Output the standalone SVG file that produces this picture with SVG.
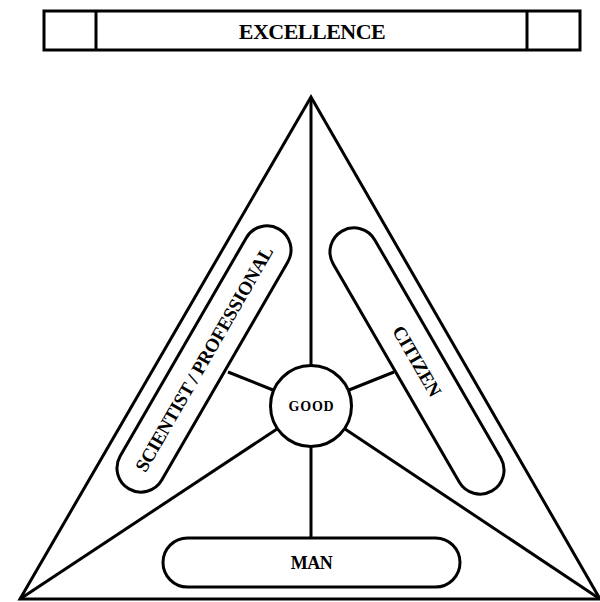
<svg xmlns="http://www.w3.org/2000/svg" width="600" height="602" viewBox="0 0 600 602">
<style>
.s{fill:none;stroke:#000;stroke-width:3}
.f{fill:#fff;stroke:#000;stroke-width:3}
.t{font-family:"Liberation Serif","Times New Roman",serif;font-weight:bold;fill:#000;text-anchor:middle}
</style>
<rect width="600" height="602" fill="#fff"/>
<g id="banner">
<rect class="s" x="44" y="11" width="536" height="39"/>
<line class="s" x1="96" y1="11" x2="96" y2="50"/>
<line class="s" x1="527" y1="11" x2="527" y2="50"/>
<text class="t" x="312" y="38.5" font-size="22" letter-spacing="-0.5">EXCELLENCE</text>
</g>
<g id="triangle">
<polygon class="s" points="311,97 20,599 600,599" stroke-linejoin="miter"/>
</g>
<g id="connectors">
<line class="s" x1="311" y1="97" x2="311" y2="366"/>
<line class="s" x1="311" y1="447" x2="311" y2="538"/>
<line class="s" x1="277" y1="429" x2="20" y2="599"/>
<line class="s" x1="345" y1="429" x2="600" y2="599"/>
<line class="s" x1="228" y1="372" x2="273" y2="390"/>
<line class="s" x1="394" y1="372" x2="349" y2="390"/>
</g>
<g id="good">
<circle class="f" cx="311" cy="406" r="40.5"/>
<text class="t" x="311.5" y="411" font-size="14" letter-spacing="0.8">GOOD</text>
</g>
<g id="man">
<rect class="f" x="163" y="538" width="297" height="49" rx="24.5"/>
<text class="t" x="311.5" y="569" font-size="18" letter-spacing="-0.5">MAN</text>
</g>
<g id="scientist" transform="translate(204,359) rotate(-60)">
<rect class="f" x="-150" y="-24" width="300" height="48" rx="24"/>
<text class="t" x="0" y="6.5" font-size="19" letter-spacing="-0.3">SCIENTIST / PROFESSIONAL</text>
</g>
<g id="citizen" transform="translate(417,361) rotate(60)">
<rect class="f" x="-150" y="-24" width="300" height="48" rx="24"/>
<text class="t" x="0" y="6.5" font-size="19" letter-spacing="-0.3">CITIZEN</text>
</g>
</svg>
